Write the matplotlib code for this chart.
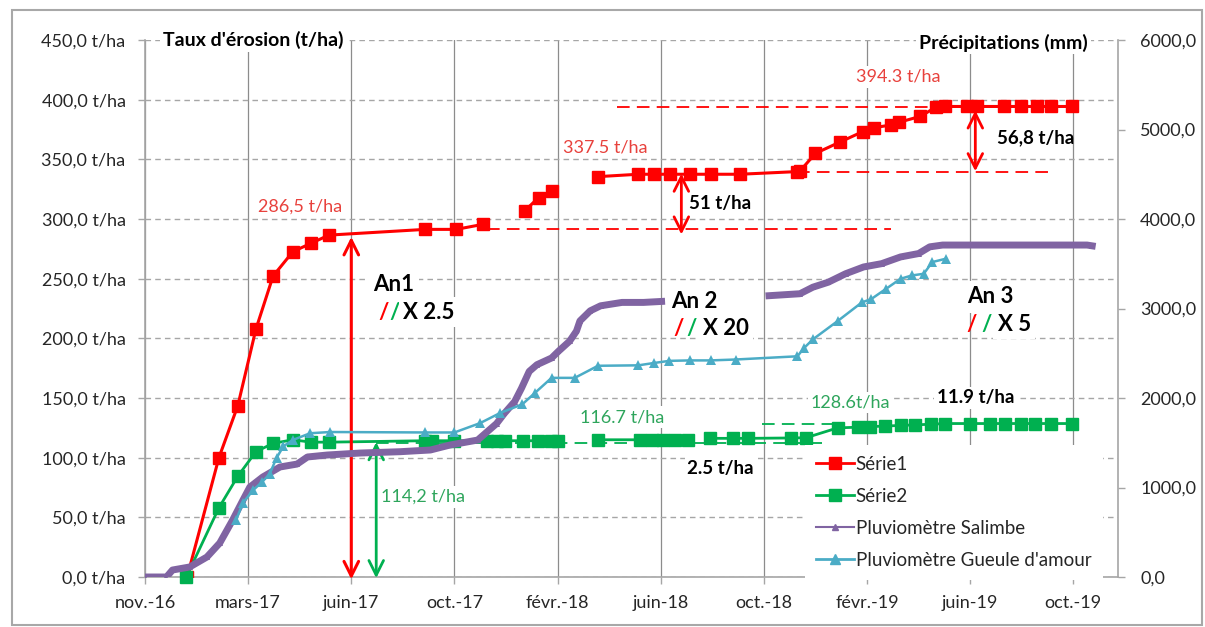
import numpy as np
import matplotlib
matplotlib.use('Agg')
import matplotlib.pyplot as plt
import matplotlib.dates as mdates
from matplotlib.lines import Line2D
from matplotlib.patches import Rectangle
from matplotlib.ticker import FuncFormatter, FixedLocator

plt.rcParams['font.family'] = ['Lato', 'DejaVu Sans']

nan = np.nan

# ---- data ----
# Série1 : taux d'érosion cumulé, parcelle 1 (t/ha)
serie1_dates = ['2016-12-20', '2017-01-26', '2017-02-17', '2017-03-10', '2017-03-30', '2017-04-22',
                '2017-05-13', '2017-06-03', '2017-09-23', '2017-10-29', '2017-11-29', '2017-12-20',
                '2018-01-17', '2018-02-02', '2018-02-17', '2018-03-10', '2018-04-12', '2018-05-29',
                '2018-06-16', '2018-07-05', '2018-07-28', '2018-08-21', '2018-09-24', '2018-11-29',
                '2018-12-03', '2018-12-21', '2019-01-18', '2019-02-14', '2019-02-27', '2019-03-19',
                '2019-03-28', '2019-04-22', '2019-05-10', '2019-05-21', '2019-06-15', '2019-06-27',
                '2019-07-28', '2019-08-17', '2019-09-05', '2019-09-21', '2019-10-15']
serie1_vals = [0, 100.0, 143.6, 207.6, 252.2, 272.6,
               279.6, 286.5, 291.3, 291.3, 295.5, nan,
               307.0, 318.0, 323.7, nan, 335.5, 337.5,
               337.5, 337.5, 337.5, 337.5, 337.5, 339.7,
               340.2, 355.0, 364.3, 373.2, 376.5, 378.8,
               381.0, 386.0, 393.6, 394.3, 394.3, 394.3,
               394.3, 394.3, 394.3, 394.3, 394.3]

# Série2 : taux d'érosion cumulé, parcelle 2 (t/ha)
serie2_dates = ['2016-12-19', '2017-01-26', '2017-02-17', '2017-03-10', '2017-03-30', '2017-04-22',
                '2017-05-13', '2017-06-03', '2017-09-23', '2017-10-01', '2017-10-26', '2017-12-04',
                '2017-12-16', '2017-12-25', '2018-01-15', '2018-02-01', '2018-02-16', '2018-02-24',
                '2018-03-20', '2018-04-12', '2018-05-31', '2018-06-14', '2018-06-27', '2018-07-11',
                '2018-07-26', '2018-08-08', '2018-08-20', '2018-09-16', '2018-10-04', '2018-11-22',
                '2018-12-10', '2019-01-16', '2019-02-08', '2019-02-23', '2019-03-12', '2019-03-30',
                '2019-04-16', '2019-05-04', '2019-05-21', '2019-06-19', '2019-07-12', '2019-07-30',
                '2019-08-17', '2019-09-03', '2019-09-21', '2019-10-15']
serie2_vals = [0, 58.0, 84.5, 105.0, 112.0, 115.0,
               113.0, 113.0, 114.2, 114.2, 114.2, 114.2,
               114.2, 114.2, 114.2, 114.2, 114.2, 114.2,
               nan, 115.0, 115.0, 115.0, 115.0, 115.0,
               115.0, nan, 116.2, 116.2, 116.2, 116.5,
               116.7, 125.0, 125.5, 126.0, 126.5, 127.0,
               127.5, 128.0, 128.6, 128.6, 128.6, 128.6,
               128.6, 128.6, 128.6, 128.6]

# Pluviomètre Salimbe : pluie cumulée (mm)
salimbe_dates = ['2016-11-01', '2016-11-26', '2016-12-03', '2016-12-23', '2017-01-12', '2017-01-27',
                 '2017-02-11', '2017-02-23', '2017-03-03', '2017-03-18', '2017-04-07', '2017-04-27',
                 '2017-05-09', '2017-06-01', '2017-07-09', '2017-08-25', '2017-09-12', '2017-09-29',
                 '2017-10-22', '2017-11-23', '2017-12-15', '2017-12-24', '2018-01-05', '2018-01-13',
                 '2018-01-22', '2018-01-31', '2018-02-17', '2018-02-25', '2018-03-10', '2018-03-18',
                 '2018-03-22', '2018-04-03', '2018-04-15', '2018-05-10', '2018-06-04', '2018-06-25',
                 '2018-08-15', '2018-10-28', '2018-12-03', '2018-12-18', '2019-01-05', '2019-01-25',
                 '2019-02-15', '2019-03-08', '2019-03-30', '2019-04-20', '2019-05-03', '2019-05-18',
                 '2019-11-02', '2019-11-08']
salimbe_vals = [0, 0, 78, 112, 223, 380,
                637, 860, 1005, 1117, 1229, 1262,
                1341, 1363, 1385, 1400, 1410, 1419,
                1475, 1530, 1714, 1827, 1959, 2109,
                2297, 2372, 2447, 2522, 2635, 2748,
                2861, 2974, 3030, 3068, 3068, 3079,
                nan, 3143, 3165, 3238, 3294, 3388,
                3464, 3501, 3576, 3614, 3689, 3709,
                3709, 3700]

# Pluviomètre Gueule d'amour : pluie cumulée (mm)
gueule_dates = ['2017-02-15', '2017-02-23', '2017-03-07', '2017-03-17', '2017-03-26', '2017-04-03',
                '2017-04-11', '2017-04-22', '2017-05-12', '2017-06-04', '2017-09-23', '2017-10-27',
                '2017-11-26', '2017-12-19', '2018-01-14', '2018-01-29', '2018-02-17', '2018-03-16',
                '2018-04-12', '2018-05-29', '2018-06-16', '2018-07-04', '2018-07-28', '2018-08-21',
                '2018-09-19', '2018-11-30', '2018-12-08', '2018-12-18', '2019-01-16', '2019-02-13',
                '2019-02-24', '2019-03-13', '2019-03-30', '2019-04-12', '2019-04-26', '2019-05-06',
                '2019-05-22']
gueule_vals = [637, 830, 972, 1060, 1150, 1330,
               1460, 1531, 1606, 1620, 1615, 1615,
               1720, 1832, 1930, 2060, 2225, 2225,
               2360, 2365, 2391, 2415, 2420, 2420,
               2430, 2466, 2561, 2655, 2861, 3068,
               3106, 3219, 3332, 3369, 3388, 3519,
               3557]

x_ticklabels = ['nov.-16', 'mars-17', 'juin-17', 'oct.-17', 'févr.-18',
                'juin-18', 'oct.-18', 'févr.-19', 'juin-19', 'oct.-19']
left_ticks = [0, 50, 100, 150, 200, 250, 300, 350, 400, 450]
right_ticks = [0, 1000, 2000, 3000, 4000, 5000, 6000]

# ---- colours ----
RED = '#ff0000'
GREEN = '#00b050'
PURPLE = '#8064a2'
CYAN = '#4bacc6'
TXT_RED = '#e8413c'
TXT_GREEN = '#2ea55c'
GRID = '#a6a6a6'


def D(s):
    return mdates.date2num(np.datetime64(s))


def dates(lst):
    return np.array(lst, dtype='datetime64[D]')


fig = plt.figure(figsize=(12.05, 6.27), dpi=100)
ax = fig.add_axes([145 / 1205, 50 / 627, 973 / 1205, 537 / 627])
ax2 = ax.twinx()

# outer frame of the chart
fig.patches.append(Rectangle((12 / 1205, 2 / 627), 1190 / 1205, 615 / 627, transform=fig.transFigure,
                             fill=False, edgecolor='#a8a8a8', lw=1.5))

# erosion series (left axis)
ax.plot(dates(serie1_dates), serie1_vals, color=RED, lw=2.2, marker='s', ms=8, zorder=3)
ax.plot(dates(serie2_dates), serie2_vals, color=GREEN, lw=2, marker='s', ms=8, zorder=3, clip_on=False)

# rain gauges (right axis)
ax2.plot(dates(salimbe_dates), salimbe_vals, color=PURPLE, lw=5, marker='^', ms=5, mew=0)
ax2.plot(dates(gueule_dates), gueule_vals, color=CYAN, lw=1.8, marker='^', ms=6.5, mew=0)

# axes
x0, x1 = D('2016-11-01'), D('2019-12-08')
ax.set_xlim(x0, x1)
ax.set_ylim(0, 450)
ax2.set_ylim(0, 6000)
xticks = [x0 + 120 * i for i in range(len(x_ticklabels))]
ax.xaxis.set_major_locator(FixedLocator(xticks))
ax.set_xticklabels(x_ticklabels)
ax.set_yticks(left_ticks)
ax.yaxis.set_major_formatter(FuncFormatter(lambda v, p: f'{v:.1f} t/ha'.replace('.', ',')))
ax2.set_yticks(right_ticks)
ax2.yaxis.set_major_formatter(FuncFormatter(lambda v, p: f'{v:.1f}'.replace('.', ',')))

ax.set_axisbelow(True)
ax.yaxis.grid(True, color=GRID, lw=1, ls=(0, (4, 3)))
ax.xaxis.grid(True, color='#8c8c8c', lw=0.9)
for s in ['top', 'right']:
    ax.spines[s].set_visible(False)
for s in ['top', 'left', 'bottom']:
    ax2.spines[s].set_visible(False)
for sp in [ax.spines['left'], ax.spines['bottom'], ax2.spines['right']]:
    sp.set_color(GRID)
    sp.set_linewidth(1.2)
ax.tick_params(axis='both', colors=GRID, labelcolor='#262626', labelsize=13, length=5, width=1)
ax.tick_params(axis='y', pad=9)
ax.tick_params(axis='x', pad=8)
ax2.tick_params(axis='y', colors=GRID, labelcolor='#262626', labelsize=13, length=5, width=1, pad=11)

white = dict(facecolor='white', edgecolor='none', pad=2)

ax.text(0.018, 1.0, "Taux d'érosion (t/ha)", transform=ax.transAxes, ha='left', va='center',
        fontsize=14, fontweight='bold', bbox=white, zorder=4)
ax.text(0.969, 0.995, 'Précipitations (mm)', transform=ax.transAxes, ha='right', va='center',
        fontsize=14, fontweight='bold', bbox=white, zorder=4)

# reference dashed lines
ax.plot([D('2017-12-04'), D('2019-03-19')], [291.5, 291.5], color=RED, lw=1.3, ls=(0, (7, 4)), zorder=2)
ax.plot([D('2018-05-04'), D('2019-05-10')], [394.0, 394.0], color=RED, lw=1.3, ls=(0, (7, 4)), zorder=2)
ax.plot([D('2018-11-30'), D('2019-09-21')], [339.5, 339.5], color=RED, lw=1.3, ls=(0, (7, 4)), zorder=2)
ax.plot([D('2017-07-28'), D('2018-12-29')], [112.0, 112.0], color=GREEN, lw=1.3, ls=(0, (7, 4)), zorder=2)
ax.plot([D('2018-10-20'), D('2019-01-13')], [128.6, 128.6], color=GREEN, lw=1.3, ls=(0, (7, 4)), zorder=2)

# arrows
arrow = '<->,head_length=0.7,head_width=0.35'
def darrow(x, ya, yb, color, lw=2):
    ax.annotate('', xy=(D(x), ya), xytext=(D(x), yb), zorder=5,
                arrowprops=dict(arrowstyle=arrow, color=color, lw=lw, shrinkA=0, shrinkB=0,
                                mutation_scale=15), annotation_clip=False)

darrow('2017-06-29', -2, 285, RED, 2.2)
darrow('2017-07-28', -1, 113, GREEN, 2)
darrow('2018-07-18', 287, 338, RED, 2)
darrow('2019-06-25', 340, 391, RED, 2)

# value labels
ax.text(D('2017-04-30'), 310, '286,5 t/ha', color=TXT_RED, fontsize=13, ha='center', va='center',
        bbox=white, zorder=4)
ax.text(D('2018-04-21'), 360, '337.5 t/ha', color=TXT_RED, fontsize=13, ha='center', va='center',
        bbox=white, zorder=4)
ax.text(D('2019-03-27'), 419, '394.3 t/ha', color=TXT_RED, fontsize=13, ha='center', va='center',
        bbox=white, zorder=4)
ax.text(D('2018-07-27'), 313, '51 t/ha', fontsize=13.5, fontweight='bold', ha='left', va='center',
        bbox=white, zorder=4)
ax.text(D('2019-07-20'), 368, '56,8 t/ha', fontsize=13.5, fontweight='bold', ha='left', va='center',
        zorder=6)
ax.text(D('2017-09-21'), 67, '114,2 t/ha', color=TXT_GREEN, fontsize=13, ha='center', va='center',
        bbox=white, zorder=4)
ax.text(D('2018-05-10'), 134, '116.7 t/ha', color=TXT_GREEN, fontsize=13, ha='center', va='center',
        bbox=white, zorder=4)
ax.text(D('2019-01-31'), 146, '128.6t/ha', color=TXT_GREEN, fontsize=13, ha='center', va='center',
        bbox=white, zorder=4)
ax.text(D('2018-07-25'), 91, '2.5 t/ha', fontsize=13.5, fontweight='bold', ha='left', va='center',
        bbox=white, zorder=4)
ax.text(D('2019-05-11'), 150, '11.9 t/ha', fontsize=13.5, fontweight='bold', ha='left', va='center',
        bbox=white, zorder=4)

# year blocks
years = [('An1', '2017-07-24', 245, ['2017-07-30', '2017-08-12', '2017-08-28'], 'X 2.5'),
         ('An 2', '2018-07-06', 231, ['2018-07-09', '2018-07-24', '2018-08-12'], 'X 20'),
         ('An 3', '2019-06-15', 235, ['2019-06-15', '2019-07-02', '2019-07-21'], 'X 5')]
for name, xd, yv, xs, factor in years:
    ax.text(D(xd), yv, name, fontsize=16, fontweight='bold', ha='left', va='center',
            bbox=dict(facecolor='white', edgecolor='none', pad=4), zorder=4)
    ax.text(D(xs[0]), yv - 23, '/', color=RED, fontsize=16, fontweight='bold', ha='left', va='center', zorder=4)
    ax.text(D(xs[1]), yv - 23, '/', color=GREEN, fontsize=16, fontweight='bold', ha='left', va='center', zorder=4)
    ax.text(D(xs[2]), yv - 23, factor, fontsize=16, fontweight='bold', ha='left', va='center',
            bbox=dict(facecolor='white', edgecolor='none', pad=3), zorder=4)

# legend
handles = [Line2D([], [], color=RED, lw=2, marker='s', ms=8),
           Line2D([], [], color=GREEN, lw=2, marker='s', ms=8),
           Line2D([], [], color=PURPLE, lw=1.5, marker='^', ms=5),
           Line2D([], [], color=CYAN, lw=2, marker='^', ms=7)]
labels = ['Série1', 'Série2', 'Pluviomètre Salimbe', "Pluviomètre Gueule d'amour"]
leg = ax2.legend(handles, labels, loc='lower left', bbox_to_anchor=(805 / 1205, 47 / 627),
                 bbox_transform=fig.transFigure, frameon=True, fancybox=False, framealpha=1,
                 edgecolor='none', facecolor='white', fontsize=13.5, handlelength=2.0,
                 handletextpad=0.1, labelspacing=0.8, borderpad=0.6, borderaxespad=0)
for t in leg.get_texts():
    t.set_color('#262626')

fig.savefig('out.png', dpi=100)
